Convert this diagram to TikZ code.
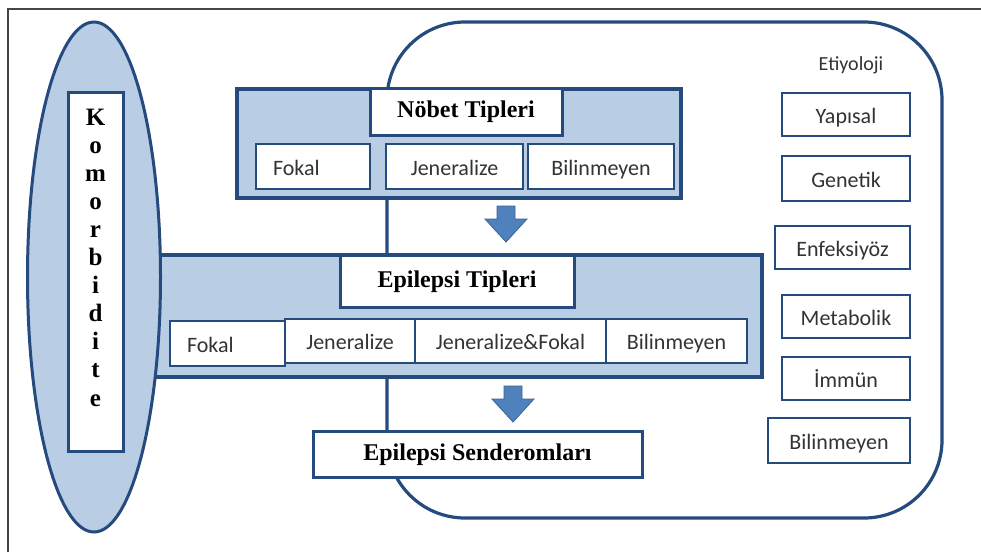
\documentclass[tikz,border=0pt]{standalone}
\usepackage{fontspec}
\setmainfont{Liberation Serif}
\newfontfamily\calibri{Carlito}
\usetikzlibrary{shapes.geometric}
\definecolor{navy}{RGB}{36,74,126}
\definecolor{paleblue}{RGB}{185,205,229}
\definecolor{arrowblue}{RGB}{79,129,189}
\definecolor{arrowedge}{RGB}{60,98,146}
\definecolor{framegray}{RGB}{70,70,70}
\tikzset{
  groupbox/.style={draw=navy,fill=paleblue,line width=4.5pt,inner sep=0pt},
  titlebox/.style={draw=navy,fill=white,line width=3pt,inner sep=0pt,
    font=\fontsize{24}{28}\selectfont\bfseries,text height=16pt,text depth=4pt},
  itembox/.style={draw=navy,fill=white,line width=2.8pt,inner sep=0pt,
    font=\calibri\fontsize{22}{26}\selectfont,text=black!80,text height=17pt,text depth=0pt},
  leftitem/.style={itembox,align=left,inner xsep=17pt,text width=#1},
  komletter/.style={anchor=base,inner sep=0pt,font=\fontsize{25}{28}\selectfont\bfseries},
  % block arrow between the groups
  pics/downarrow/.style={code={
    \filldraw[fill=arrowblue,draw=arrowedge,line width=0.8pt]
      (-9,0) -- (9,0) -- (9,13) -- (21,13) -- (0,36) -- (-21,13) -- (-9,13) -- cycle;
  }},
}
\begin{document}
\begin{tikzpicture}[x=1pt,y=-1pt]
  \useasboundingbox (0,0) rectangle (981,552);
  \draw[framegray,line width=2pt] (8,552) -- (8,8.5) -- (981,8.5);
  % etiyoloji frame
  \node[draw=navy,fill=white,line width=3.2pt,rounded corners=78pt,
    minimum width=555pt,minimum height=496pt] (etiframe) at (664.5,270) {};
  \node[font=\calibri\fontsize{20}{24}\selectfont,text=black!80,anchor=base] (etilabel) at (851,70) {Etiyoloji};
  \node[itembox,minimum width=128pt,minimum height=43pt] (yapisal) at (846,114.5) {Yapısal};
  \node[itembox,minimum width=128pt,minimum height=45pt] (genetik) at (846,178.5) {Genetik};
  \node[itembox,minimum width=135pt,minimum height=43pt] (enfeks) at (842.5,247.5) {Enfeksiyöz};
  \node[itembox,minimum width=128pt,minimum height=43pt] (metab) at (846,316.5) {Metabolik};
  \node[itembox,minimum width=128pt,minimum height=43pt] (immun) at (846,378.5) {İmmün};
  \node[itembox,minimum width=142pt,minimum height=45pt] (etibil) at (839,440.5) {Bilinmeyen};
  % nobet tipleri
  \node[groupbox,minimum width=444pt,minimum height=109pt] (nbgroup) at (459,143.5) {};
  \node[titlebox,minimum width=192pt,minimum height=47pt] (nbtitle) at (466,111.5) {Nöbet Tipleri};
  \node[leftitem=80pt,minimum height=45pt] (nbfokal) at (313,166.5) {Fokal};
  \node[itembox,minimum width=137pt,minimum height=45pt] (nbjen) at (454.5,166.5) {Jeneralize};
  \node[itembox,minimum width=146pt,minimum height=45pt] (nbbil) at (601,166.5) {Bilinmeyen};
  \pic at (506,206) {downarrow};
  % epilepsi tipleri
  \node[groupbox,minimum width=642pt,minimum height=122pt] (epgroup) at (441,316) {};
  \node[draw=navy,fill=paleblue,line width=3pt,ellipse,minimum width=133pt,minimum height=510pt] (komorb) at (94,277) {};
  \node[draw=navy,fill=white,line width=3pt,minimum width=55pt,minimum height=359pt] (kombox) at (95.5,271.5) {};
  \foreach \ch [count=\i from 0] in {K,o,m,o,r,b,i,d,i,t,e}
    \node[komletter] (kom\i) at (95.5,125+28.1*\i) {\ch};
  \node[titlebox,minimum width=234pt,minimum height=52pt] (eptitle) at (457,281) {Epilepsi Tipleri};
  \node[leftitem=81pt,minimum height=45pt] (epfokal) at (227.5,343.5) {Fokal};
  \node[itembox,minimum width=130pt,minimum height=44pt] (epjen) at (350,341) {Jeneralize};
  \node[itembox,minimum width=191pt,minimum height=44pt] (epjf) at (510.5,341) {Jeneralize\&Fokal};
  \node[itembox,minimum width=141pt,minimum height=44pt] (epbil) at (676.5,341) {Bilinmeyen};
  \pic at (513,386) {downarrow};
  % sendromlar
  \node[titlebox,minimum width=329pt,minimum height=46pt] (sendrom) at (477.5,454) {Epilepsi Senderomları};
\end{tikzpicture}
\end{document}
